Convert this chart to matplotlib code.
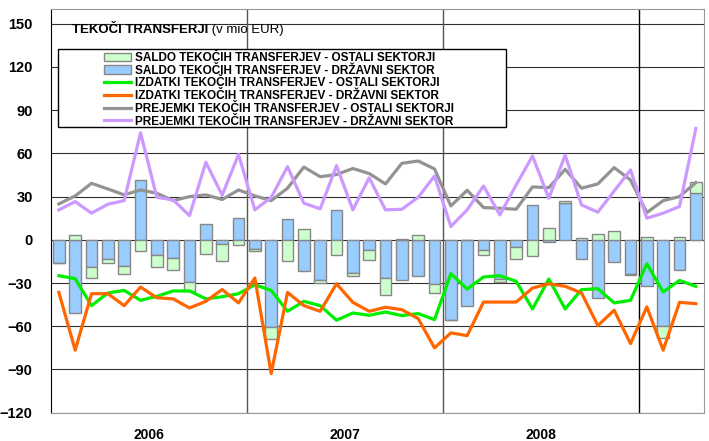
import numpy as np
import matplotlib
matplotlib.use('Agg')
import matplotlib.pyplot as plt
from matplotlib.patches import Rectangle

plt.rcParams['font.family'] = ['Liberation Sans', 'DejaVu Sans']

years = ['2006', '2007', '2008']

# saldo (bars), months Jan 2006 - Apr 2009
saldo_drz = [-16, -51, -19, -13, -18.5, 41.3, -10.6, -12.7, -29.5, 11.3,
             -3, 15, -6.5, -60.5, 14.3, -21.5, -28.2, 20.5, -23, -7.4,
             -26.5, -27.7, -24.9, -30.7, -55.4, -45.7, -6.9, -27.2, -5.3, 24.4,
             -1.8, 25.5, -13.4, -40.6, -15.5, -23.8, -31.8, -59.5, -20.8, 32.8]
saldo_ost = [-0.3, 3.5, -7.4, -2.8, -5, -8.1, -8.3, -8.5, -5.8, -9.7,
             -11.5, -3.5, -1, -8.1, -14.5, 7.8, -1.8, -10.8, -1.8, -6.9,
             -11.8, 0.5, 3.5, -6.2, -0.3, 0.2, -3.5, -2, -8.1, -11.1,
             8.5, 1.3, 1, 4.2, 5.8, -0.5, 2.3, -8.5, 1.8, 7.6]

# lines
izd_ost = [-24.9, -27, -45.7, -36.9, -35.1, -42, -39.2, -35.5, -35.5, -41,
           -39.5, -37.4, -31.2, -35.1, -49.6, -42.7, -45.7, -55.8, -50.8, -52.4,
           -50.1, -52.6, -51.2, -55.4, -23.5, -34.2, -25.8, -24.9, -28.8, -48,
           -27.2, -48, -34.6, -33.9, -43.8, -42, -16.6, -36.2, -28.2, -32.3]
izd_drz = [-36.5, -76.6, -37.4, -37.4, -45.7, -32.8, -40.2, -41, -47.3, -42.7,
           -34.5, -43.8, -26.5, -92.8, -36.5, -45.7, -49.6, -30.5, -43.4, -49.6,
           -46.8, -48.5, -54.7, -75, -64.6, -66.5, -43.2, -43.2, -43.2, -33.5,
           -30.5, -32.3, -36.9, -59.5, -48.9, -72, -46.6, -76.6, -43.4, -44.3]
prej_ost = [24.9, 30.5, 39.2, 35.3, 31.2, 34.6, 32.3, 27.2, 30, 31.2,
            28, 34.6, 30.5, 27.2, 35.8, 50.5, 43.8, 45.3, 49.5, 46,
            38.8, 53.1, 54.7, 49.2, 23.5, 34.4, 22.4, 21.9, 21.2, 36.7,
            36.2, 48.9, 35.8, 38.8, 50.1, 41.5, 18.9, 27.2, 30, 39.7]
prej_drz = [20.8, 26.5, 18.5, 24.7, 27.2, 74.3, 29.5, 27.7, 16.8, 53.8,
            31, 59.3, 20.8, 29.5, 50.8, 25.4, 21.5, 51.5, 20.8, 43,
            20.8, 21.2, 29.5, 44.3, 9.2, 20.8, 37.4, 17.3, 38.1, 58.2,
            28.8, 58.8, 24.2, 19.2, 33.9, 48.5, 15, 18.5, 23.1, 77.3]

x = np.arange(len(saldo_drz))
b = np.array(saldo_drz)
g = np.array(saldo_ost)
g_bottom = np.where(np.sign(g) == np.sign(b), b, 0)

fig = plt.figure(figsize=(7.09, 4.41), dpi=100)
ax = fig.add_axes([50.7/709, 1-412.7/441, 653.3/709, 403.4/441])

ax.set_ylim(-120, 160)
ax.set_xlim(-0.5, len(x) - 0.5)
ax.set_yticks(np.arange(-120, 151, 30))
for v in np.arange(-120, 151, 30):
    ax.axhline(v, color='#303030', lw=0.8, zorder=0)
for xv, c in zip([11.5, 23.5, 35.5], ['#555555', '#555555', 'black']):
    ax.axvline(xv, color=c, lw=1, zorder=0)

bar_drz = ax.bar(x, b, width=0.71, color='#99CCFF', edgecolor='#888888', lw=1, zorder=2)
bar_ost = ax.bar(x, g, bottom=g_bottom, width=0.71, color='#CCFFCC', edgecolor='#888888',
                 lw=1, zorder=2)

lw = 2.3
l1, = ax.plot(x, izd_ost, color='#00EE00', lw=lw, zorder=3)
l2, = ax.plot(x, izd_drz, color='#FF6600', lw=lw, zorder=3)
l3, = ax.plot(x, prej_ost, color='#939393', lw=lw, zorder=3)
l4, = ax.plot(x, prej_drz, color='#CC99FF', lw=lw, zorder=3)

ax.set_xticks([])
ax.tick_params(axis='y', length=0, pad=13)
for lab in ax.get_yticklabels():
    lab.set_fontweight('bold')
    lab.set_fontsize(10.5)
for s in ['top', 'right', 'bottom']:
    ax.spines[s].set_color('#999999')
ax.spines['left'].set_color('black')

for i, yr in enumerate(years):
    ax.text(i*12 + 5.5, -0.055, yr, transform=ax.get_xaxis_transform(),
            ha='center', va='center', fontsize=10, fontweight='bold')

t1 = ax.text(72/709, 1-30/441, 'TEKOČI TRANSFERJI', transform=fig.transFigure,
             fontsize=9.5, fontweight='bold', va='center')
ax.annotate(' (v mio EUR)', xy=(1, 0), xycoords=t1, va='bottom', fontsize=9.5)

# legend box drawn separately (wide side padding)
fig.patches.append(Rectangle((58/709, 1-127/441), 448/709, 78/441, transform=fig.transFigure,
                             facecolor='white', edgecolor='black', lw=1, zorder=5))
handles = [bar_ost, bar_drz, l1, l2, l3, l4]
labels = ['SALDO TEKOČIH TRANSFERJEV - OSTALI SEKTORJI',
          'SALDO TEKOČIH TRANSFERJEV - DRŽAVNI SEKTOR',
          'IZDATKI TEKOČIH TRANSFERJEV - OSTALI SEKTORJI',
          'IZDATKI TEKOČIH TRANSFERJEV - DRŽAVNI SEKTOR',
          'PREJEMKI TEKOČIH TRANSFERJEV - OSTALI SEKTORJI',
          'PREJEMKI TEKOČIH TRANSFERJEV - DRŽAVNI SEKTOR']
leg = fig.legend(handles, labels, loc='upper left',
                 bbox_to_anchor=(104/709, 1-52/441), frameon=False, borderpad=0,
                 borderaxespad=0, handlelength=2.3, handletextpad=0.3,
                 labelspacing=0.06, prop={'weight': 'bold', 'size': 8.5})
leg.set_zorder(6)

fig.savefig('out.png', dpi=100)
